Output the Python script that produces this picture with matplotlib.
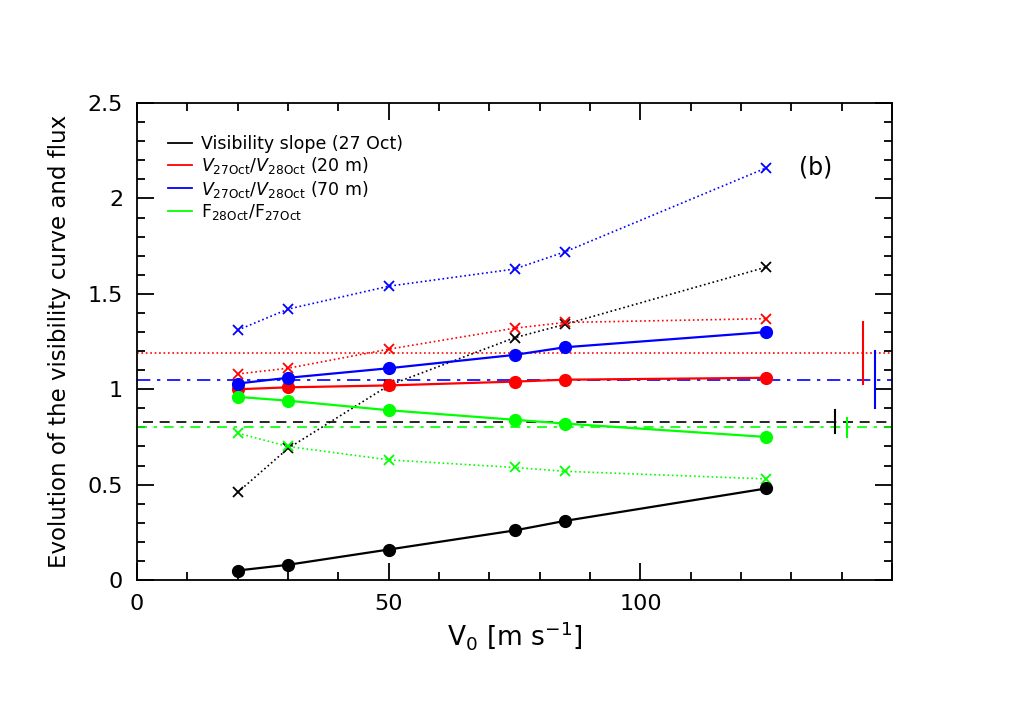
import numpy as np
import matplotlib.pyplot as plt
import matplotlib.ticker as plticker

v0 = [20, 30, 50, 75, 85, 125]

# solid lines with filled circles
slope_27 = [0.05, 0.08, 0.16, 0.26, 0.31, 0.48]
ratio_20m = [1.00, 1.01, 1.02, 1.04, 1.05, 1.06]
ratio_70m = [1.03, 1.06, 1.11, 1.18, 1.22, 1.30]
flux_ratio = [0.96, 0.94, 0.89, 0.84, 0.82, 0.75]

# dotted lines with crosses
slope_27_x = [0.46, 0.69, 1.02, 1.27, 1.34, 1.64]
ratio_20m_x = [1.08, 1.11, 1.21, 1.32, 1.35, 1.37]
ratio_70m_x = [1.31, 1.42, 1.54, 1.63, 1.72, 2.16]
flux_ratio_x = [0.77, 0.70, 0.63, 0.59, 0.57, 0.53]

# reference levels and their error bars
ref_level = {"black": 0.83, "red": 1.19, "blue": 1.05, "lime": 0.80}
ref_err = {"black": 0.06, "red": 0.16, "blue": 0.15, "lime": 0.05}
ref_xpos = {"black": 138.7, "red": 144.2, "blue": 146.6, "lime": 141.1}

fig = plt.figure(figsize=(10.25, 7.17), dpi=100)
ax = fig.add_axes([0.1337, 0.191, 0.7366, 0.6653])

# horizontal reference lines
ax.plot([1.2, 150], [ref_level["black"]] * 2, color='black', lw=1.2, dashes=(6, 4))
ax.plot([0, 150], [ref_level["red"]] * 2, color='red', lw=1.2, ls=':')
ax.plot([0, 150], [ref_level["blue"]] * 2, color='blue', lw=1.2, dashes=(8, 4, 2, 4))
ax.plot([0, 150], [ref_level["lime"]] * 2, color='lime', lw=1.2, dashes=(6, 4, 2, 4))

for c in ["black", "red", "blue", "lime"]:
    ax.plot([ref_xpos[c]] * 2, [ref_level[c] - ref_err[c], ref_level[c] + ref_err[c]],
            color=c, lw=1.5)

# dotted curves with crosses
for ys, c in [(slope_27_x, 'black'), (ratio_20m_x, 'red'),
              (ratio_70m_x, 'blue'), (flux_ratio_x, 'lime')]:
    ax.plot(v0, ys, ls=':', color=c, lw=1.2, marker='x', ms=7, mew=1.3)

# solid curves with circles
labels = ["Visibility slope (27 Oct)",
          r"$V_{\rm 27Oct}/V_{\rm 28Oct}$ (20 m)",
          r"$V_{\rm 27Oct}/V_{\rm 28Oct}$ (70 m)",
          r"F$_{\rm 28Oct}$/F$_{\rm 27Oct}$"]
for ys, c, lab in zip([slope_27, ratio_20m, ratio_70m, flux_ratio],
                      ['black', 'red', 'blue', 'lime'], labels):
    ax.plot(v0, ys, '-', color=c, lw=1.6, marker='o', ms=8.5)
    ax.plot([], [], '-', color=c, lw=1.3, label=lab)

ax.set_xlim(0, 150)
ax.set_ylim(0, 2.5)
ax.xaxis.set_major_locator(plticker.MultipleLocator(50))
ax.xaxis.set_minor_locator(plticker.MultipleLocator(10))
ax.xaxis.set_major_formatter(plticker.FuncFormatter(lambda v, p: '' if v >= 150 else '%g' % v))
ax.yaxis.set_major_locator(plticker.MultipleLocator(0.5))
ax.yaxis.set_minor_locator(plticker.MultipleLocator(0.1))
ax.yaxis.set_major_formatter(plticker.FuncFormatter(lambda v, p: ('%g' % v)))
ax.tick_params(which='both', direction='in', top=True, right=True, width=1.3)
ax.tick_params(which='major', length=12, labelsize=16, pad=10)
ax.tick_params(which='minor', length=6)
for s in ax.spines.values():
    s.set_linewidth(1.3)

ax.set_xlabel(r"V$_0$ [m s$^{-1}$]", fontsize=19)
ax.set_ylabel("Evolution of the visibility curve and flux", fontsize=16.5, labelpad=12)
ax.text(0.877, 0.85, "(b)", transform=ax.transAxes, fontsize=17)

ax.legend(loc='upper left', bbox_to_anchor=(0.02, 0.965), frameon=False,
          fontsize=12.5, handlelength=1.4, handletextpad=0.5, labelspacing=0.12)

fig.savefig('out.png', dpi=100)
